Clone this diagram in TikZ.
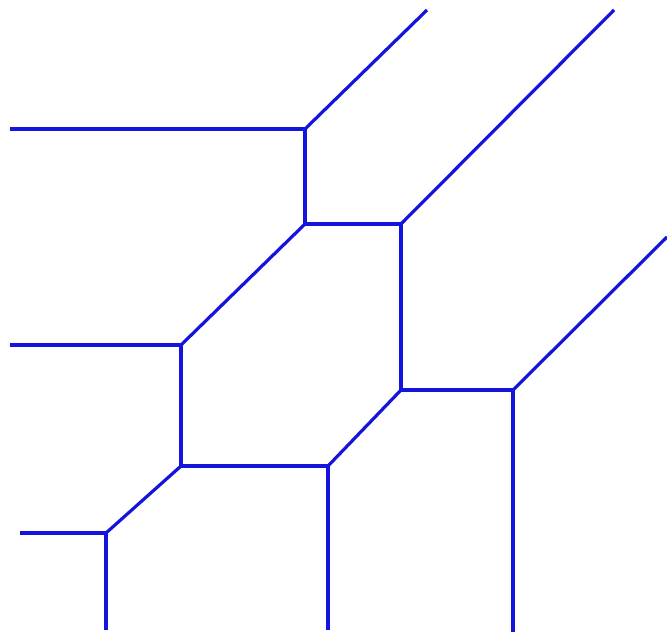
\documentclass[tikz,border=0pt]{standalone}
\usepackage{tikz}
\definecolor{edgecol}{RGB}{20,20,220}
\begin{document}
\begin{tikzpicture}[x=1pt,y=-1pt,edge/.style={edgecol,line width=3.2pt}]
  \useasboundingbox (0,0) rectangle (667,637);
  % inner vertices
  \coordinate (A) at (305,129);
  \coordinate (B) at (305,224);
  \coordinate (C) at (401,224);
  \coordinate (D) at (181,345);
  \coordinate (E) at (401,390);
  \coordinate (F) at (513,390);
  \coordinate (G) at (181,466);
  \coordinate (H) at (328,466);
  \coordinate (I) at (106,533);
  % free ends of the unbounded rays
  \coordinate (a1) at (10,129);
  \coordinate (a2) at (427,10);
  \coordinate (c1) at (614,10);
  \coordinate (d1) at (10,345);
  \coordinate (f1) at (667,237);
  \coordinate (f2) at (513,632);
  \coordinate (h1) at (328,630);
  \coordinate (i1) at (20,533);
  \coordinate (i2) at (106,630);
  % bounded edges
  \foreach \u/\v in {A/B,B/C,B/D,C/E,D/G,E/F,E/H,G/H,G/I}
     \draw[edge] (\u) -- (\v);
  % rays
  \foreach \u/\v in {A/a1,A/a2,C/c1,D/d1,F/f1,F/f2,H/h1,I/i1,I/i2}
     \draw[edge] (\u) -- (\v);
\end{tikzpicture}
\end{document}
